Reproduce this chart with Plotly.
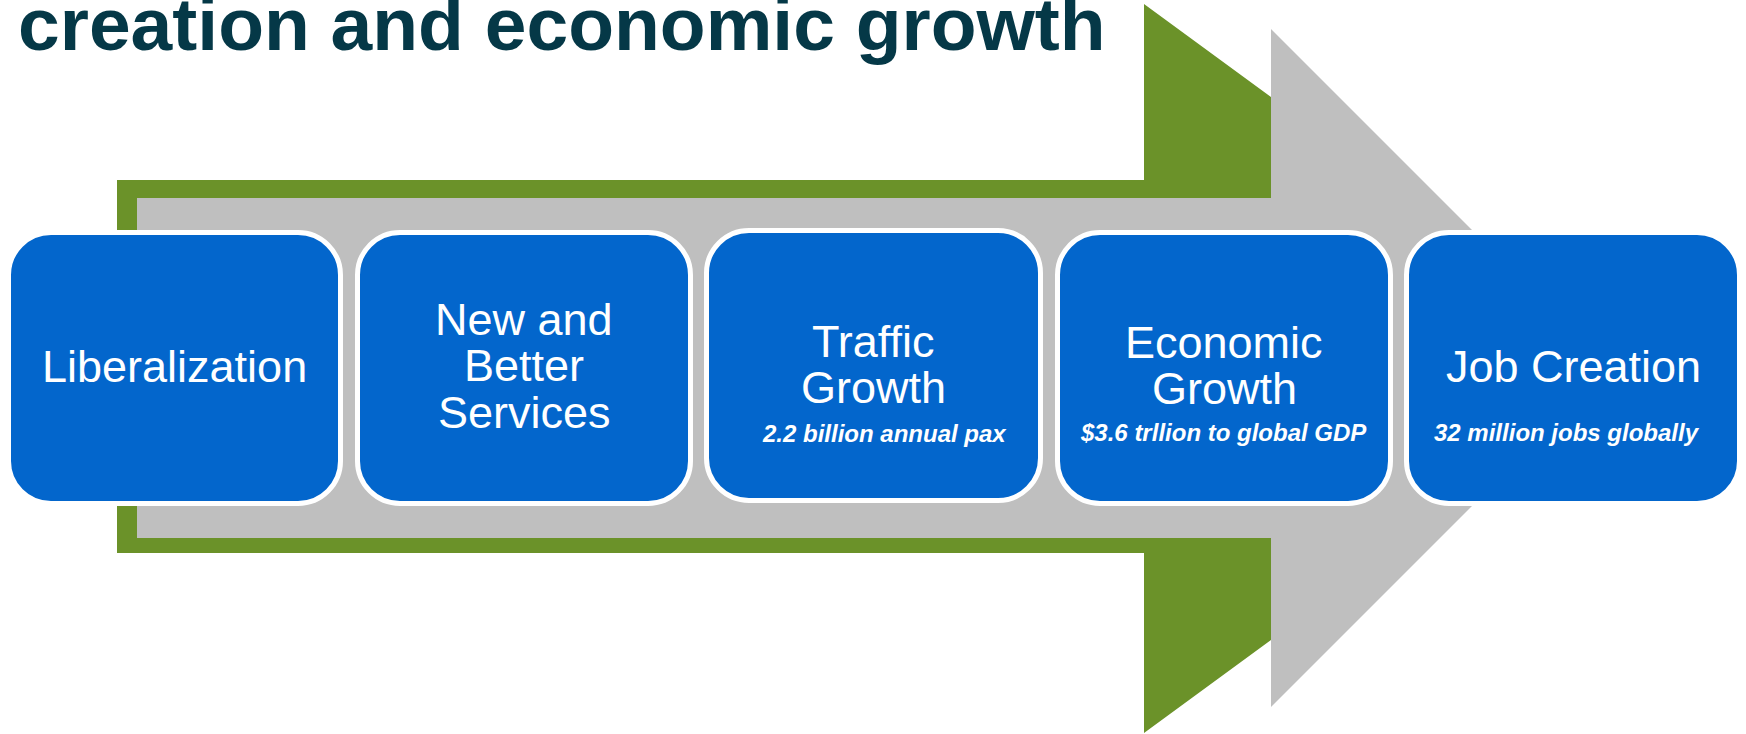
import plotly.graph_objects as go

# ---- content -------------------------------------------------------------
title_text = "creation and economic growth"
stage_lines = [
    ["Liberalization"],
    ["New and", "Better", "Services"],
    ["Traffic", "Growth"],
    ["Economic", "Growth"],
    ["Job Creation"],
]
stage_notes = ["", "", "2.2 billion annual pax", "$3.6 trllion to global GDP", "32 million jobs globally"]

# ---- geometry (pixels, y downward) --------------------------------------
W, H = 1746, 734
box_x0 = [11, 360, 709, 1060, 1409]
box_x1 = [338, 688, 1038, 1388, 1737]
box_y0 = [235, 235, 233, 235, 235]
box_y1 = [501, 501, 498, 501, 501]
first_baseline = [382, 335, 357, 358, 382]
line_step = 46.5
note_baseline = [441, 441, 442, 441, 441]
note_cx_shift = [0, 0, 11, -1, -6]
RADIUS = 40

GREEN = "#6B9229"
GRAY = "#BFBFBF"
BLUE = "#0366CC"
TITLE_C = "#053847"
FONT = "Liberation Sans, Arial, sans-serif"

green_arrow = dict(x0=117, top=180, bot=553, hx=1144, htop=4, hbot=733, tipx=1642, tipy=368.5)
gray_arrow = dict(x0=137, top=198, bot=538, hx=1271, htop=29, hbot=707, tipx=1610, tipy=368)


def arrow_path(a):
    pts = [(a["x0"], a["top"]), (a["hx"], a["top"]), (a["hx"], a["htop"]),
           (a["tipx"], a["tipy"]), (a["hx"], a["hbot"]), (a["hx"], a["bot"]),
           (a["x0"], a["bot"])]
    return "M " + " L ".join(f"{x},{y}" for x, y in pts) + " Z"


def rrect(x0, y0, x1, y1, r):
    k = 0.5523 * r
    return (f"M {x0+r},{y0} L {x1-r},{y0} C {x1-r+k},{y0} {x1},{y0+r-k} {x1},{y0+r} "
            f"L {x1},{y1-r} C {x1},{y1-r+k} {x1-r+k},{y1} {x1-r},{y1} "
            f"L {x0+r},{y1} C {x0+r-k},{y1} {x0},{y1-r+k} {x0},{y1-r} "
            f"L {x0},{y0+r} C {x0},{y0+r-k} {x0+r-k},{y0} {x0+r},{y0} Z")


def center_from_baseline(baseline, size):
    return baseline - 0.3465 * size


fig = go.Figure()
fig.add_trace(go.Scatter(x=[0, W], y=[0, H], mode="markers", marker=dict(opacity=0),
                         hoverinfo="skip", showlegend=False))

shapes = [
    dict(type="path", path=arrow_path(green_arrow), fillcolor=GREEN, line=dict(width=0), layer="below"),
    dict(type="path", path=arrow_path(gray_arrow), fillcolor=GRAY, line=dict(width=0), layer="below"),
]
annotations = []
for i, lines in enumerate(stage_lines):
    pad = 2.5
    shapes.append(dict(type="path",
                       path=rrect(box_x0[i] - pad, box_y0[i] - pad, box_x1[i] + pad, box_y1[i] + pad, RADIUS + pad),
                       fillcolor=BLUE, line=dict(color="white", width=5), layer="above"))
    cx = (box_x0[i] + box_x1[i]) / 2
    for j, ln in enumerate(lines):
        b = first_baseline[i] + j * line_step
        annotations.append(dict(x=cx, y=center_from_baseline(b, 45), xref="x", yref="y",
                                text=ln, showarrow=False, xanchor="center", yanchor="middle",
                                borderpad=0, font=dict(family=FONT, size=45, color="white")))
    if stage_notes[i]:
        annotations.append(dict(x=cx + note_cx_shift[i], y=center_from_baseline(note_baseline[i], 24),
                                xref="x", yref="y", text=f"<b><i>{stage_notes[i]}</i></b>",
                                showarrow=False, xanchor="center", yanchor="middle", borderpad=0,
                                font=dict(family=FONT, size=24, color="white")))

annotations.append(dict(x=17, y=center_from_baseline(50, 75), xref="x", yref="y",
                        text=f"<b>{title_text}</b>", showarrow=False, xanchor="left", yanchor="middle",
                        borderpad=0, font=dict(family=FONT, size=75, color=TITLE_C)))

fig.update_layout(
    width=W, height=H, margin=dict(l=0, r=0, t=0, b=0),
    paper_bgcolor="white", plot_bgcolor="white",
    xaxis=dict(range=[0, W], visible=False, fixedrange=True),
    yaxis=dict(range=[H, 0], visible=False, fixedrange=True),
    shapes=shapes, annotations=annotations, showlegend=False,
)

fig.write_html("out.html", config={"displayModeBar": False},
               post_script="document.body.style.margin='0px';")
